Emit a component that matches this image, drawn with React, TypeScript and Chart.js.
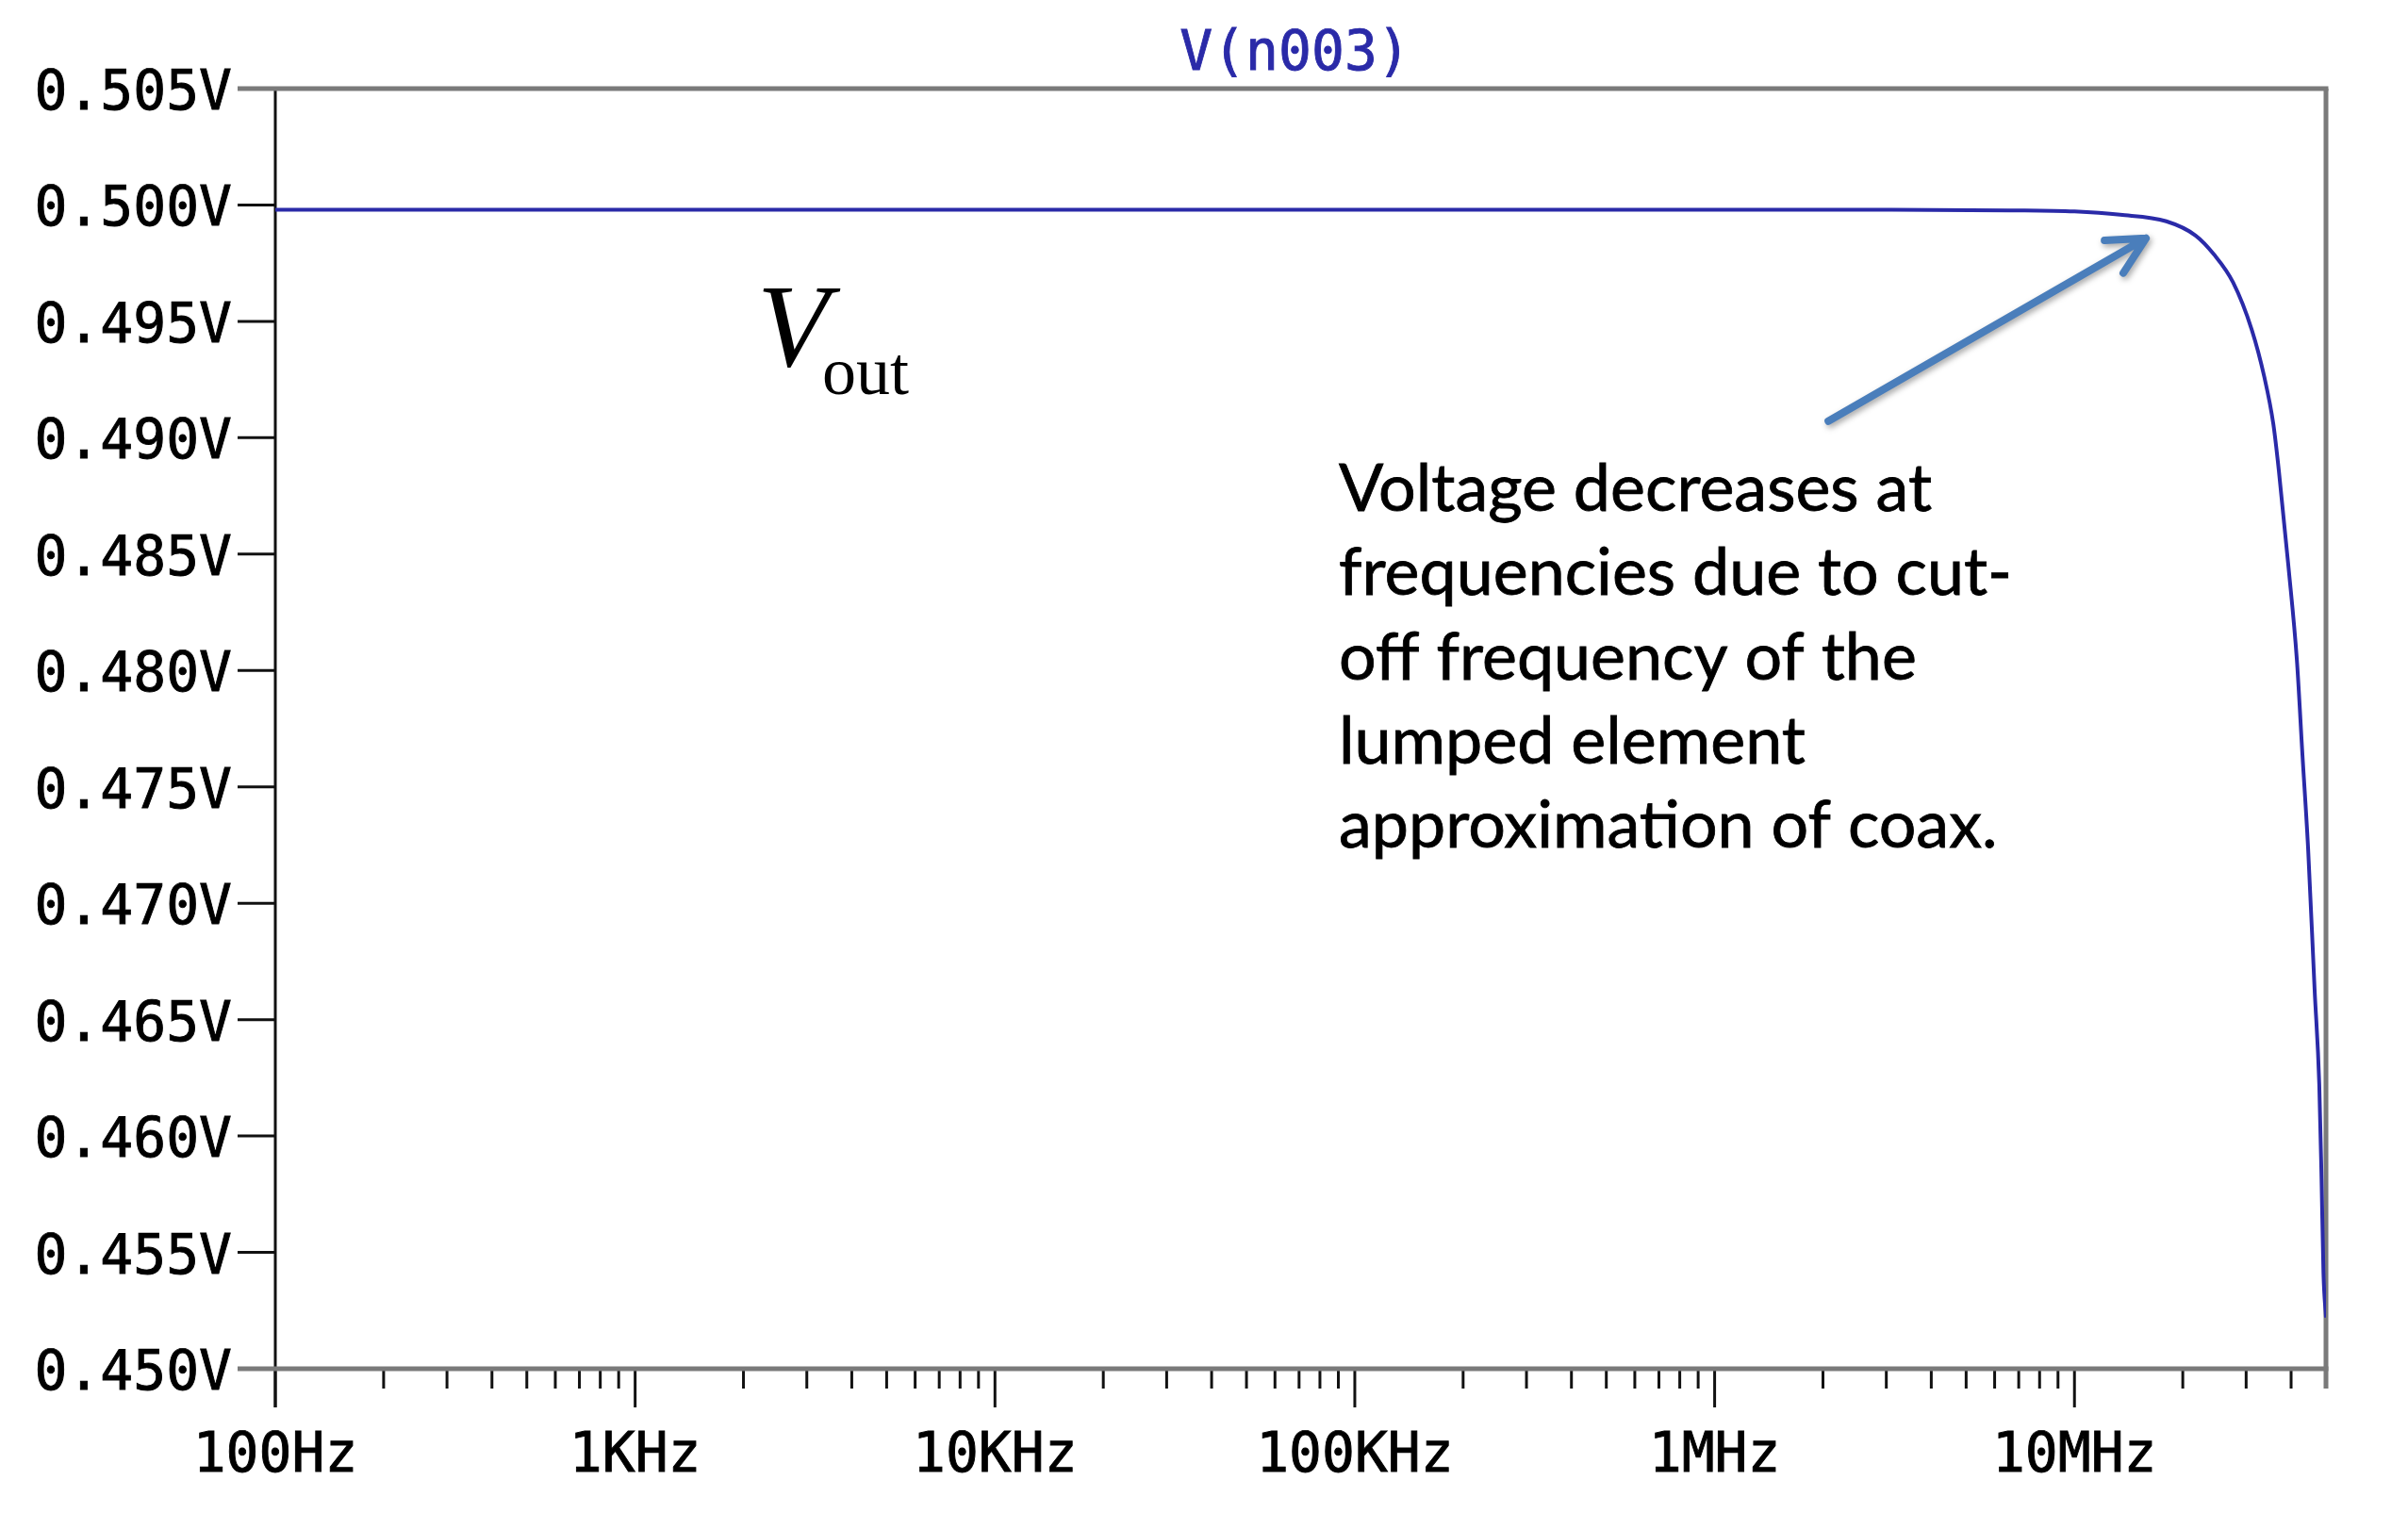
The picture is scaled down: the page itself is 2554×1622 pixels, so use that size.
import React, { useEffect, useRef } from 'react';
import { Chart, registerables } from 'chart.js';

Chart.register(...registerables);

// ---- data ----
const seriesLabel = 'V(n003)';
const frequencyHz = [
  100, 1e3, 1e4, 1e5, 1e6, 3e6, 6.6e6, 1e7, 1.34e7, 1.8e7, 2.17e7, 2.44e7, 2.76e7,
  3.11e7, 3.37e7, 3.57e7, 3.7e7, 3.93e7, 4.15e7, 4.3e7, 4.46e7, 4.65e7, 4.79e7,
  4.86e7, 4.92e7, 5e7,
];
const voltageV = [
  0.4998, 0.4998, 0.4998, 0.4998, 0.4998, 0.4998, 0.49977, 0.49972, 0.49958, 0.4993,
  0.49869, 0.49788, 0.49667, 0.49464, 0.49261, 0.49059, 0.48856, 0.48451, 0.48046,
  0.4764, 0.47235, 0.46627, 0.46222, 0.45817, 0.45412, 0.4522,
];
const yTickValues = [0.45, 0.455, 0.46, 0.465, 0.47, 0.475, 0.48, 0.485, 0.49, 0.495, 0.5, 0.505];
const yTickLabels = ['0.450V', '0.455V', '0.460V', '0.465V', '0.470V', '0.475V', '0.480V', '0.485V', '0.490V', '0.495V', '0.500V', '0.505V'];
const xMajorTicks = [100, 1e3, 1e4, 1e5, 1e6, 1e7];
const xMajorLabels = ['100Hz', '1KHz', '10KHz', '100KHz', '1MHz', '10MHz'];
const xMinorMultipliers = [2, 3, 4, 5, 6, 7, 8, 9];
const xMin = 100;
const xMax = 5e7;

const annotationLines = [
  'Voltage decreases at',
  'frequencies due to cut-',
  'off frequency of the',
  'lumped element',
  'approximation of coax.',
];
// arrow in data coordinates (frequency, voltage)
const arrowTail = { x: 2.07e6, y: 0.49071 };
const arrowTip = { x: 1.58e7, y: 0.49857 };

const TRACE = '#2a2aa8';
const MONO = '"DejaVu Sans Mono", monospace';
const MONO_SIZE = 58;

function line(ctx: CanvasRenderingContext2D, x1: number, y1: number, x2: number, y2: number) {
  ctx.beginPath();
  ctx.moveTo(x1, y1);
  ctx.lineTo(x2, y2);
  ctx.stroke();
}

function monoText(ctx: CanvasRenderingContext2D, t: string, x: number, y: number, color: string) {
  ctx.fillStyle = color;
  ctx.strokeStyle = color;
  ctx.lineWidth = 0.9;
  ctx.fillText(t, x, y);
  ctx.strokeText(t, x, y);
}

const framePlugin = {
  id: 'ltspiceFrame',
  beforeDatasetsDraw(chart: any) {
    const { ctx, chartArea, scales } = chart;
    const { left, right, top, bottom } = chartArea;
    const x = scales.x;
    const y = scales.y;
    ctx.save();
    ctx.lineCap = 'butt';
    ctx.strokeStyle = '#111';
    ctx.lineWidth = 3;
    // minor x ticks
    for (let d = 0; d < xMajorTicks.length; d++) {
      for (const m of xMinorMultipliers) {
        const v = xMajorTicks[d] * m;
        if (v >= xMax) continue;
        const px = x.getPixelForValue(v);
        line(ctx, px, bottom, px, bottom + 21);
      }
    }
    // major x ticks
    for (const v of xMajorTicks) {
      const px = x.getPixelForValue(v);
      line(ctx, px, bottom, px, bottom + 41);
    }
    // y ticks
    for (const v of yTickValues) {
      const py = y.getPixelForValue(v);
      line(ctx, left - 40, py, left, py);
    }
    // left axis
    line(ctx, left, top, left, bottom + 41);
    // gray frame
    ctx.strokeStyle = '#7a7a7a';
    ctx.lineWidth = 5;
    line(ctx, left - 40, top, right + 2.5, top);
    line(ctx, left - 40, bottom, right + 2.5, bottom);
    line(ctx, right, top, right, bottom + 21);

    // tick labels
    ctx.font = `${MONO_SIZE}px ${MONO}`;
    ctx.textBaseline = 'alphabetic';
    ctx.textAlign = 'right';
    yTickValues.forEach((v, i) => {
      const py = y.getPixelForValue(v);
      monoText(ctx, yTickLabels[i], left - 46, py + 22, '#000');
    });
    ctx.textAlign = 'center';
    xMajorTicks.forEach((v, i) => {
      const px = x.getPixelForValue(v);
      monoText(ctx, xMajorLabels[i], px, bottom + 109, '#000');
    });
    ctx.restore();
  },
  afterDraw(chart: any) {
    const { ctx, chartArea, scales } = chart;
    const { left, right } = chartArea;
    ctx.save();

    // trace name title
    ctx.font = `${MONO_SIZE}px ${MONO}`;
    ctx.textAlign = 'center';
    ctx.textBaseline = 'alphabetic';
    monoText(ctx, seriesLabel, (left + right) / 2 - 6, 74, TRACE);

    // V_out label
    ctx.fillStyle = '#000';
    ctx.textAlign = 'left';
    ctx.font = 'italic 125px "Liberation Serif", serif';
    ctx.fillText('V', 803, 388);
    ctx.font = '72px "Liberation Serif", serif';
    ctx.fillText('out', 872, 418);

    // annotation text
    ctx.font = '100px Lato, "Open Sans", sans-serif';
    const w = ctx.measureText(annotationLines[0]).width;
    const size = (100 * 629) / w;
    ctx.font = `${size}px Lato, "Open Sans", sans-serif`;
    ctx.strokeStyle = '#000';
    ctx.lineWidth = 0.8;
    annotationLines.forEach((t, i) => {
      ctx.fillText(t, 1420, 542 + i * 89.3);
      ctx.strokeText(t, 1420, 542 + i * 89.3);
    });

    // arrow
    const tx = scales.x.getPixelForValue(arrowTail.x);
    const ty = scales.y.getPixelForValue(arrowTail.y);
    const hx = scales.x.getPixelForValue(arrowTip.x);
    const hy = scales.y.getPixelForValue(arrowTip.y);
    const ang = Math.atan2(hy - ty, hx - tx);
    const armLen = 44;
    const spread = (27 * Math.PI) / 180;
    ctx.shadowColor = 'rgba(0,0,0,0.35)';
    ctx.shadowBlur = 6;
    ctx.shadowOffsetX = 2;
    ctx.shadowOffsetY = 3;
    ctx.strokeStyle = '#4a7ebb';
    ctx.lineWidth = 8;
    ctx.lineCap = 'round';
    ctx.lineJoin = 'round';
    ctx.beginPath();
    ctx.moveTo(tx, ty);
    ctx.lineTo(hx, hy);
    ctx.moveTo(hx - armLen * Math.cos(ang - spread), hy - armLen * Math.sin(ang - spread));
    ctx.lineTo(hx, hy);
    ctx.lineTo(hx - armLen * Math.cos(ang + spread), hy - armLen * Math.sin(ang + spread));
    ctx.stroke();

    ctx.restore();
  },
};

export default function App() {
  const canvasRef = useRef<HTMLCanvasElement | null>(null);

  useEffect(() => {
    const canvas = canvasRef.current;
    if (!canvas) return;
    const chart = new Chart(canvas, {
      type: 'line',
      data: {
        datasets: [
          {
            label: seriesLabel,
            data: frequencyHz.map((f, i) => ({ x: f, y: voltageV[i] })),
            borderColor: TRACE,
            borderWidth: 4,
            pointRadius: 0,
            cubicInterpolationMode: 'monotone',
            fill: false,
          },
        ],
      },
      options: {
        responsive: false,
        animation: false,
        devicePixelRatio: 1,
        layout: { padding: { top: 94, right: 87, left: 0, bottom: 0 } },
        plugins: {
          legend: { display: false },
          title: { display: false },
          tooltip: { enabled: false },
        },
        scales: {
          x: {
            type: 'logarithmic',
            min: xMin,
            max: xMax,
            grid: { display: false, drawTicks: false },
            border: { display: false },
            afterBuildTicks: (s: any) => {
              s.ticks = xMajorTicks.map((v) => ({ value: v }));
            },
            afterFit: (s: any) => {
              s.height = 170;
            },
            ticks: { display: false },
          },
          y: {
            type: 'linear',
            min: 0.45,
            max: 0.505,
            grid: { display: false, drawTicks: false },
            border: { display: false },
            afterBuildTicks: (s: any) => {
              s.ticks = yTickValues.map((v) => ({ value: v }));
            },
            afterFit: (s: any) => {
              s.width = 292;
            },
            ticks: { display: false },
          },
        },
      } as any,
      plugins: [framePlugin],
    });
    return () => chart.destroy();
  }, []);

  return (
    <div style={{ position: 'fixed', left: 0, top: 0, width: 2554, height: 1622, background: '#fff' }}>
      <canvas ref={canvasRef} width={2554} height={1622} style={{ width: 2554, height: 1622 }} />
    </div>
  );
}
